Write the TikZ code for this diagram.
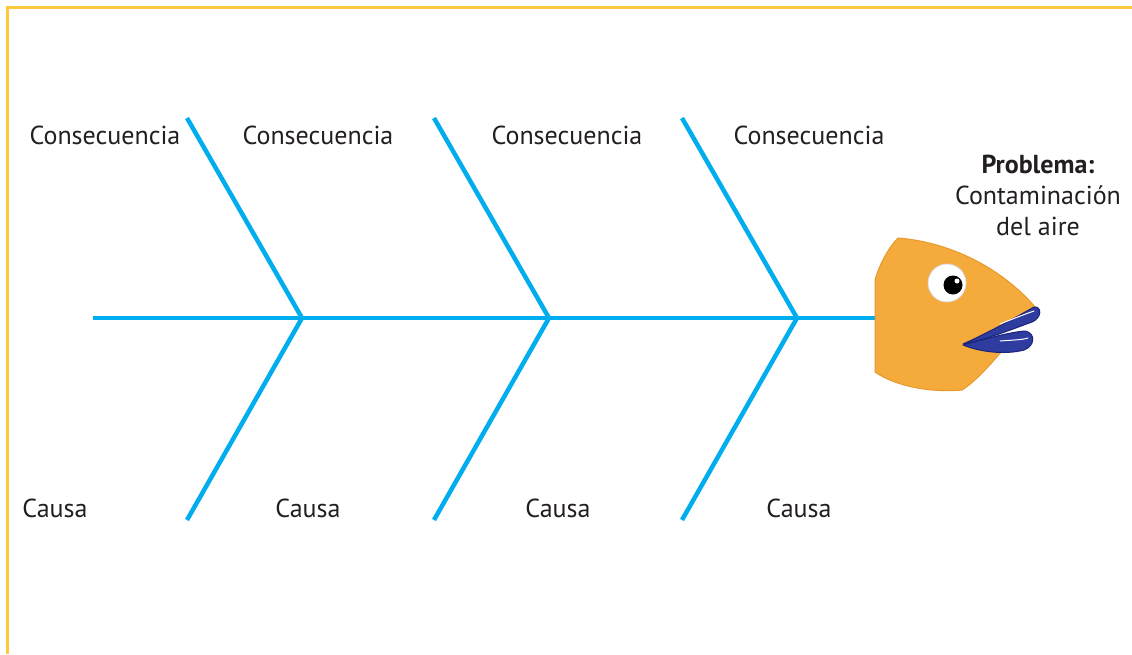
\documentclass[tikz,border=0pt]{standalone}
\usepackage{fontspec}
\setmainfont{PT Sans}
\definecolor{frame}{HTML}{FFC83D}
\definecolor{bone}{HTML}{00AEEF}
\definecolor{fishbody}{HTML}{F5AA3C}
\definecolor{fishedge}{HTML}{E69A2E}
\definecolor{lipblue}{HTML}{2E3CA0}
\definecolor{lipedge}{HTML}{1C237A}
\definecolor{txt}{HTML}{231F20}
\tikzset{
  bonestyle/.style={draw=bone, line width=4.5pt},
  lbl/.style={text=txt, font=\fontsize{26}{30}\selectfont, inner sep=0pt},
}
\begin{document}
\begin{tikzpicture}[x=1pt,y=-1pt]
\useasboundingbox (0,0) rectangle (1132,654);
\fill[white] (0,0) rectangle (1132,654);
% frame
\draw[frame, line width=3pt] (7,654) -- (7,7) -- (1132,7);

% coordinates
\coordinate (s0) at (93,318);
\coordinate (hd) at (878,318);
\coordinate (j1) at (302,318);
\coordinate (j2) at (549,318);
\coordinate (j3) at (797,318);
\coordinate (t1) at (187,118);
\coordinate (t2) at (434,118);
\coordinate (t3) at (682,118);
\coordinate (b1) at (187,520);
\coordinate (b2) at (434,520);
\coordinate (b3) at (682,520);

% spine and bones
\draw[bonestyle] (s0) -- (hd);
\draw[bonestyle] (t1) -- (j1) -- (b1);
\draw[bonestyle] (t2) -- (j2) -- (b2);
\draw[bonestyle] (t3) -- (j3) -- (b3);

% fish head
\filldraw[fill=fishbody, draw=fishedge, line width=1pt, line join=round]
  (898,238) .. controls (950,242) and (1002,268) .. (1036,308)
  -- (965,345) -- (1002,351)
  .. controls (990,365) and (975,382) .. (962,390)
  .. controls (930,393) and (895,386) .. (875,372)
  -- (875,280) .. controls (880,262) and (890,246) .. (898,238) -- cycle;
% eye
\filldraw[fill=white, draw=black!15, line width=0.8pt] (947,283) circle (19);
\fill[black] (953,285) circle (9.5);
\fill[white] (957,281) circle (2.5);
% lips
\filldraw[fill=lipblue, draw=lipedge, line width=1pt, line join=round]
  (963,344) .. controls (990,332) and (1018,316) .. (1034,307)
  .. controls (1042,306) and (1042,318) .. (1032,322)
  .. controls (1010,330) and (985,340) .. (963,344) -- cycle;
\filldraw[fill=lipblue, draw=lipedge, line width=1pt, line join=round]
  (963,345) .. controls (985,339) and (1010,332) .. (1025,331)
  .. controls (1036,333) and (1035,346) .. (1024,350)
  .. controls (1005,355) and (980,352) .. (963,345) -- cycle;
\draw[white, line width=1pt, line cap=round] (1000,324) .. controls (1015,318) and (1028,313) .. (1034,311);
\draw[white, line width=1pt, line cap=round] (1000,341) .. controls (1012,340) and (1022,340) .. (1028,338);

% labels
\node[lbl] (c1) at (105,135) {Consecuencia};
\node[lbl] (c2) at (318,135) {Consecuencia};
\node[lbl] (c3) at (567,135) {Consecuencia};
\node[lbl] (c4) at (809,135) {Consecuencia};
\node[lbl] (k1) at (55,508) {Causa};
\node[lbl] (k2) at (308,508) {Causa};
\node[lbl] (k3) at (558,508) {Causa};
\node[lbl] (k4) at (799,508) {Causa};
\node[lbl, align=center, font=\fontsize{26}{31}\selectfont] (pr) at (1038,195)
  {\textbf{Problema:}\\Contaminación\\del aire};
\end{tikzpicture}
\end{document}
